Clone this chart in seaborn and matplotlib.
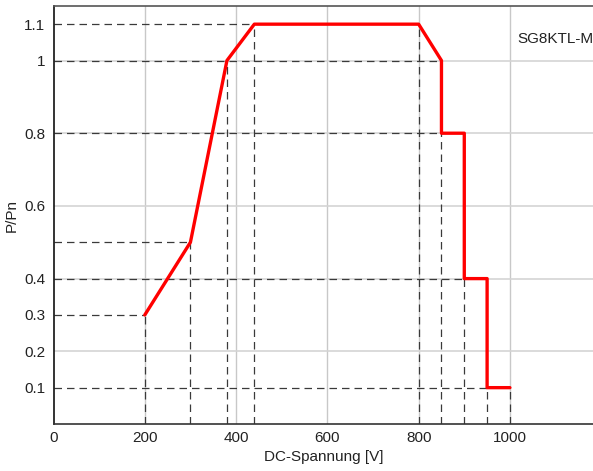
import matplotlib
matplotlib.use("Agg")
import matplotlib.pyplot as plt
import seaborn as sns
import pandas as pd

# Data
voltage = [200, 300, 380, 440, 800, 850, 850, 900, 900, 950, 950, 1000]
power = [0.3, 0.5, 1.0, 1.1, 1.1, 1.0, 0.8, 0.8, 0.4, 0.4, 0.1, 0.1]
# reference guide points (x, y) for dashed helper lines
h_guides_y = [0.3, 0.5, 1.0, 1.1, 0.8, 0.4, 0.1]
h_guides_x = [200, 300, 850, 440, 850, 900, 950]
v_guides_x = [200, 300, 380, 440, 800, 850, 900, 950, 1000]
v_guides_y = [0.3, 0.5, 1.0, 1.1, 1.1, 0.8, 0.4, 0.1, 0.1]
x_ticks = [0, 200, 400, 600, 800, 1000]
y_ticks = [0.1, 0.2, 0.3, 0.4, 0.6, 0.8, 1.0, 1.1]
y_tick_labels = ["0.1", "0.2", "0.3", "0.4", "0.6", "0.8", "1", "1.1"]
grid_x = [200, 400, 600, 800, 1000]
grid_y = [0.2, 0.4, 0.6, 0.8, 1.0]
model_label = "SG8KTL-M"

sns.set_style("white")
plt.rcParams['font.family'] = ['Liberation Sans', 'DejaVu Sans']

fig = plt.figure(figsize=(5.93, 4.71), dpi=100)
ax = fig.add_axes([53.5 / 593, 47 / 471, 1 - 53.5 / 593, (424 - 6) / 471])

# grid
for gx in grid_x:
    ax.axvline(gx, color="#c8c8c8", lw=1.0, zorder=0)
for gy in grid_y:
    ax.axhline(gy, color="#d4d4d4", lw=1.2, zorder=0)

# dashed helper lines
for gy, gx in zip(h_guides_y, h_guides_x):
    ax.plot([0, gx], [gy, gy], color="#3a3a3a", lw=0.9, dashes=(6, 4), zorder=1)
for gx, gy in zip(v_guides_x, v_guides_y):
    ax.plot([gx, gx], [0, gy], color="#3a3a3a", lw=0.9, dashes=(6, 4), zorder=1)

df = pd.DataFrame({"DC-Spannung [V]": voltage, "P/Pn": power})
sns.lineplot(data=df, x="DC-Spannung [V]", y="P/Pn", sort=False,
             estimator=None, errorbar=None,
             color="#ff0000", lw=2.4, ax=ax, zorder=3)

ax.set_xlim(0, 1182)
ax.set_ylim(0, 1.15)
ax.set_xticks(x_ticks)
ax.set_yticks(y_ticks)
ax.set_yticklabels(y_tick_labels)
ax.tick_params(axis="both", length=0, labelsize=11, colors="#222222")
ax.tick_params(axis="x", pad=5)
ax.tick_params(axis="y", pad=6)
ax.set_xlabel("DC-Spannung [V]", fontsize=11, color="#222222", labelpad=4)
ax.set_ylabel("P/Pn", fontsize=11, color="#222222", labelpad=4)

ax.spines["right"].set_visible(False)
ax.spines["left"].set_color("#111111")
ax.spines["bottom"].set_color("#333333")
ax.spines["top"].set_color("#555555")
for s in ["left", "bottom", "top"]:
    ax.spines[s].set_linewidth(1.2)

ax.text(1017, 1.06, model_label, fontsize=11, color="#222222",
        ha="left", va="center")

fig.savefig("out.png", dpi=100)
